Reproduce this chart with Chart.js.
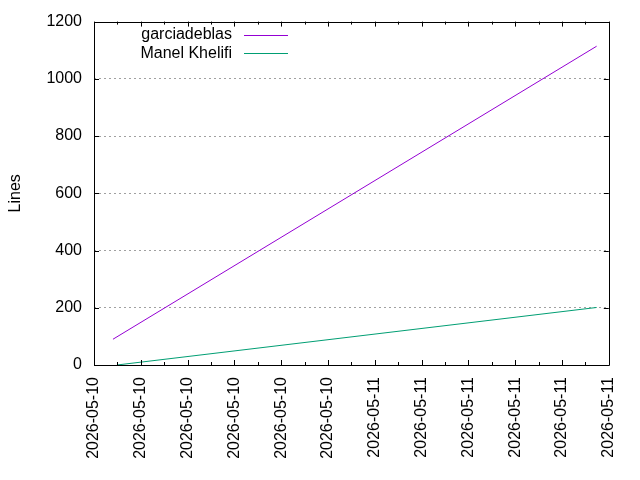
<!DOCTYPE html>
<html>
<head>
<meta charset="utf-8">
<script src="https://cdn.jsdelivr.net/npm/chart.js@4"></script>
<style>
  html, body { margin: 0; padding: 0; background: #fff; }
  #wrap { width: 640px; height: 480px; }
</style>
</head>
<body>
<div id="wrap"><canvas id="lines-chart"></canvas></div>
<script>
// hours after 2026-05-10 12:00, one tick every 2 hours
var xTickLabels = ["2026-05-10", "2026-05-10", "2026-05-10", "2026-05-10", "2026-05-10", "2026-05-10",
                   "2026-05-11", "2026-05-11", "2026-05-11", "2026-05-11", "2026-05-11", "2026-05-11"];
var yTicks = [0, 200, 400, 600, 800, 1000, 1200];

var authors = ["garciadeblas", "Manel Khelifi"];
var garciaHours = [0.81, 21.48];
var garciaLines = [90, 1114];
var manelHours = [0.98, 21.48];
var manelLines = [0, 201];

var colors = ["#9400d3", "#009e73"];
var FONT = "'Liberation Sans', Arial, sans-serif";

function points(xs, ys) {
  var out = [];
  for (var i = 0; i < xs.length; i++) out.push({ x: xs[i], y: ys[i] });
  return out;
}

// gnuplot style box, inward ticks and legend
var gnuplotFrame = {
  id: "gnuplotFrame",
  afterDraw: function (chart) {
    var ctx = chart.ctx, a = chart.chartArea;
    var xs = chart.scales.x, ys = chart.scales.y;
    ctx.save();
    ctx.strokeStyle = "#000";
    ctx.lineWidth = 1;
    ctx.beginPath();
    ctx.rect(Math.round(a.left) + 0.5, Math.round(a.top) + 0.5,
             Math.round(a.right - a.left), Math.round(a.bottom - a.top));
    ctx.stroke();

    ctx.beginPath();
    xs.ticks.forEach(function (t, i) {
      var px = Math.round(xs.getPixelForValue(t.value)) + 0.5;
      ctx.moveTo(px, a.bottom); ctx.lineTo(px, a.bottom - 5);
      ctx.moveTo(px, a.top); ctx.lineTo(px, a.top + 5);
      if (i < xs.ticks.length - 1) {
        var mx = Math.round(xs.getPixelForValue(t.value + 1)) + 0.5;
        ctx.moveTo(mx, a.bottom); ctx.lineTo(mx, a.bottom - 3);
        ctx.moveTo(mx, a.top); ctx.lineTo(mx, a.top + 3);
      }
    });
    ys.ticks.forEach(function (t) {
      var py = Math.round(ys.getPixelForValue(t.value)) + 0.5;
      ctx.moveTo(a.left, py); ctx.lineTo(a.left + 5, py);
      ctx.moveTo(a.right, py); ctx.lineTo(a.right - 5, py);
    });
    ctx.stroke();

    // legend
    ctx.font = "16px " + FONT;
    ctx.fillStyle = "#000";
    ctx.textAlign = "right";
    ctx.textBaseline = "middle";
    chart.data.datasets.forEach(function (ds, i) {
      var y = a.top + 13 + i * 18.5;
      ctx.fillText(ds.label, a.left + 138, y);
      ctx.strokeStyle = ds.borderColor;
      ctx.beginPath();
      ctx.moveTo(a.left + 150, Math.round(y) + 0.5);
      ctx.lineTo(a.left + 194, Math.round(y) + 0.5);
      ctx.stroke();
    });
    ctx.restore();
  }
};

new Chart(document.getElementById("lines-chart"), {
  type: "line",
  data: {
    datasets: [
      { label: authors[0], data: points(garciaHours, garciaLines), borderColor: colors[0], borderWidth: 1, pointRadius: 0, fill: false },
      { label: authors[1], data: points(manelHours, manelLines), borderColor: colors[1], borderWidth: 1, pointRadius: 0, fill: false }
    ]
  },
  options: {
    responsive: true,
    maintainAspectRatio: false,
    animation: false,
    layout: { padding: { top: 19, right: 31, left: 0, bottom: 0 } },
    plugins: {
      legend: { display: false },
      tooltip: { enabled: false }
    },
    scales: {
      x: {
        type: "linear",
        min: 0,
        max: 22,
        afterFit: function (s) { s.height = 115; },
        afterBuildTicks: function (s) {
          s.ticks = xTickLabels.map(function (l, i) { return { value: i * 2 }; });
        },
        grid: { display: false, drawTicks: false },
        border: { display: false },
        ticks: {
          minRotation: 90,
          maxRotation: 90,
          padding: 12,
          color: "#000",
          font: { family: FONT, size: 16 },
          callback: function (v, i) { return xTickLabels[i]; }
        }
      },
      y: {
        min: 0,
        max: 1200,
        afterFit: function (s) { s.width = 94; },
        afterBuildTicks: function (s) {
          s.ticks = yTicks.map(function (v) { return { value: v }; });
        },
        grid: {
          drawTicks: false,
          color: function (c) {
            return (c.tick && (c.tick.value === 0 || c.tick.value === 1200)) ? "rgba(0,0,0,0)" : "#a0a0a0";
          },
          lineWidth: 1
        },
        border: { display: false, dash: [2, 3] },
        title: {
          display: true,
          text: "Lines",
          color: "#000",
          font: { family: FONT, size: 16 },
          padding: { top: 6, bottom: 6 }
        },
        ticks: {
          padding: 12,
          color: "#000",
          font: { family: FONT, size: 16 },
          callback: function (v) { return String(v); }
        }
      }
    }
  },
  plugins: [gnuplotFrame]
});
</script>
</body>
</html>
